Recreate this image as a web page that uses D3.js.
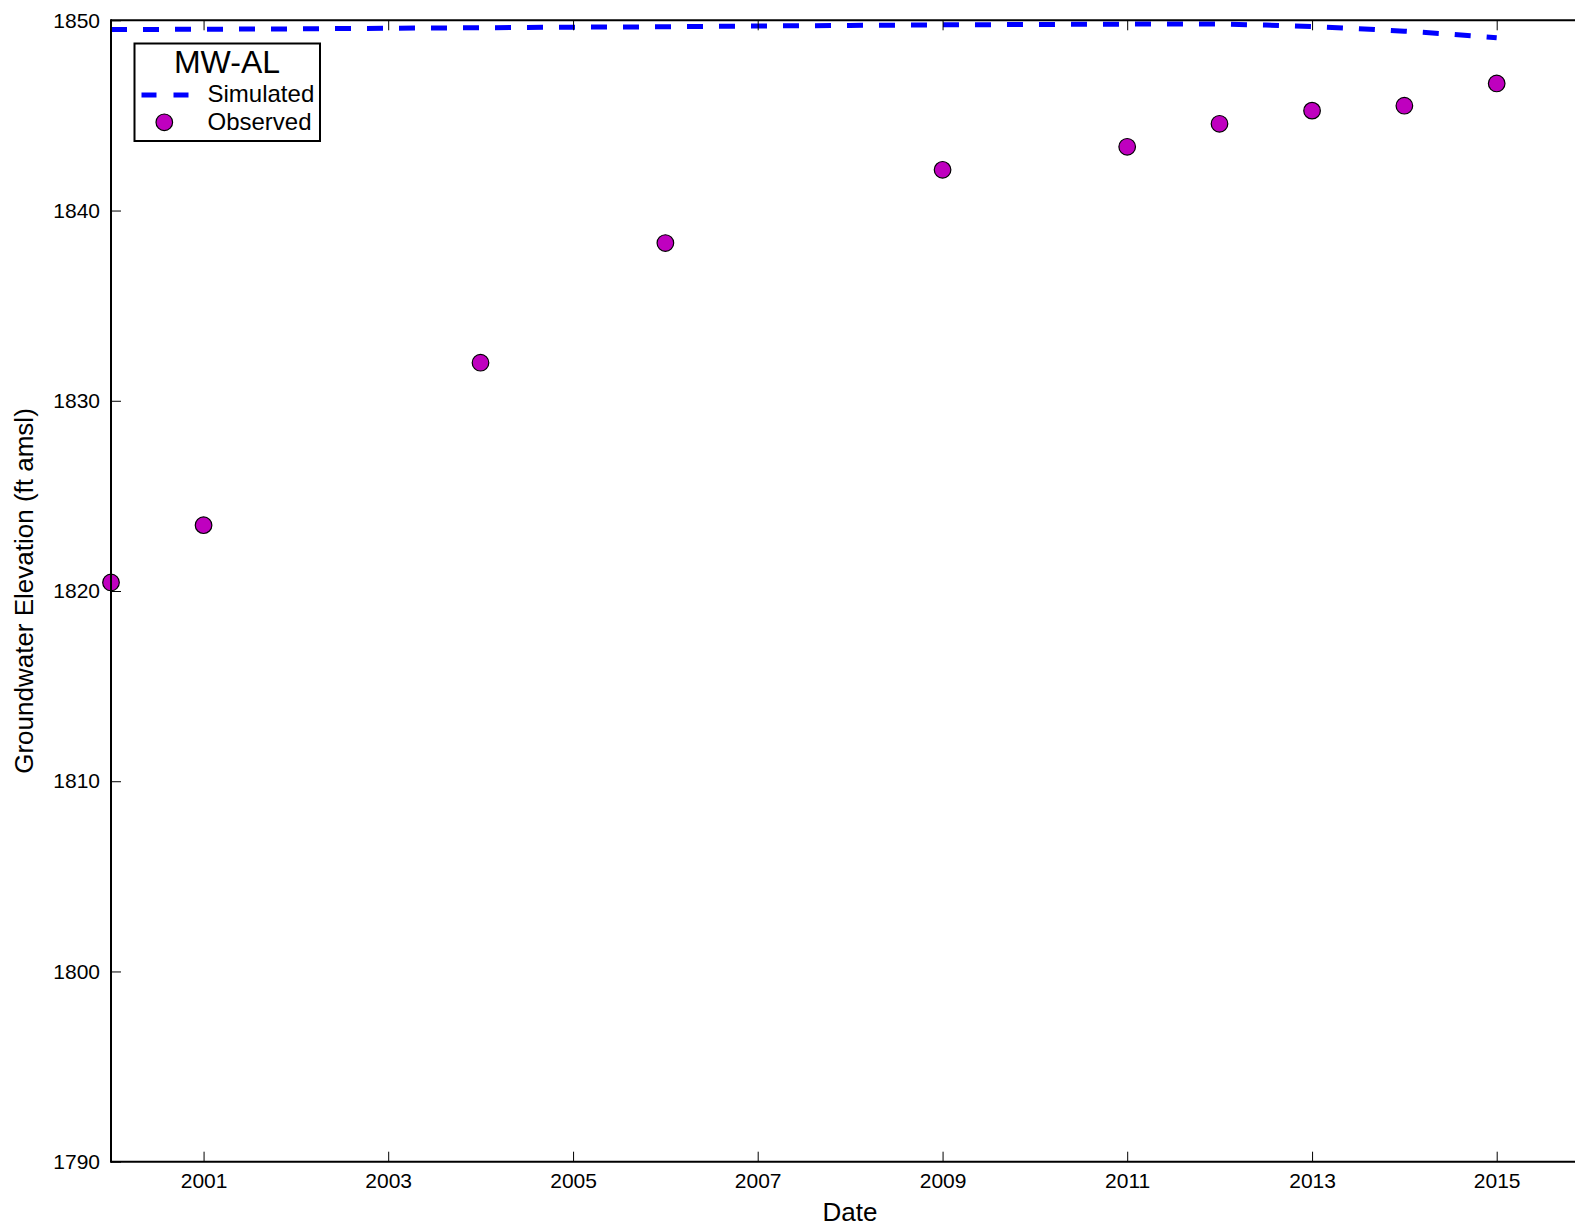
<!DOCTYPE html>
<html>
<head>
<meta charset="utf-8">
<script src="https://cdn.jsdelivr.net/npm/d3@7"></script>
<style>
  html, body { margin: 0; padding: 0; background: #fff; }
  svg { display: block; font-family: "Liberation Sans", Arial, sans-serif; }
</style>
</head>
<body>
<svg id="chart" width="1575" height="1228"></svg>
<script>
// ---- data ----
const obsYears  = [2000, 2001, 2004, 2006, 2009, 2011, 2012, 2013, 2014, 2015];
const obsValues = [1820.45, 1823.46, 1832.0, 1838.29, 1842.14, 1843.35, 1844.56, 1845.25, 1845.51, 1846.68];

const simYears  = [2000, 2001, 2002, 2003, 2004, 2005, 2006, 2007, 2008, 2009, 2010, 2011, 2012, 2012.5, 2013, 2013.5, 2014, 2014.5, 2015];
const simValues = [1849.51, 1849.53, 1849.55, 1849.58, 1849.61, 1849.64, 1849.66, 1849.70, 1849.73, 1849.76, 1849.78, 1849.80, 1849.80, 1849.75, 1849.67, 1849.56, 1849.43, 1849.27, 1849.08];

const xTickYears = [2001, 2003, 2005, 2007, 2009, 2011, 2013, 2015];
const yTicks = [1790, 1800, 1810, 1820, 1830, 1840, 1850];

const legendTitle = "MW-AL";
const seriesNames = ["Simulated", "Observed"];
const xLabel = "Date";
const yLabel = "Groundwater Elevation (ft amsl)";

(function () {
// ---- helpers ----
function yearToDate(yv) {
  const yr = Math.floor(yv);
  const frac = yv - yr;
  const a = new Date(yr, 0, 1), b = new Date(yr + 1, 0, 1);
  return new Date(a.getTime() + frac * (b - a));
}

// ---- layout ----
const pL = 111, pR = 1589, pT = 20.3, pB = 1161.7;
const svg = d3.select("#chart");

const x = d3.scaleTime()
  .domain([new Date(2000, 0, 1), new Date(2016, 0, 1)])
  .range([pL, pR]);
const y = d3.scaleLinear().domain([1790, 1850]).range([pB, pT]);

// simulated line
const simData = simYears.map((yr, i) => ({ d: yearToDate(yr), v: simValues[i] }));
const line = d3.line().x(d => x(d.d)).y(d => y(d.v));
svg.append("path")
  .datum(simData)
  .attr("d", line)
  .attr("fill", "none")
  .attr("stroke", "#0000ff")
  .attr("stroke-width", 5)
  .attr("stroke-dasharray", "16,16");

// observed points
const obsData = obsYears.map((yr, i) => ({ d: yearToDate(yr), v: obsValues[i] }));
svg.append("g").selectAll("circle")
  .data(obsData)
  .enter().append("circle")
  .attr("cx", d => x(d.d))
  .attr("cy", d => y(d.v))
  .attr("r", 8.3)
  .attr("fill", "#bf00bf")
  .attr("stroke", "#000")
  .attr("stroke-width", 1.2);

// axes (ticks inward)
const xTickDates = xTickYears.map(yr => new Date(yr, 0, 1));
const xAxisBottom = d3.axisBottom(x).tickValues(xTickDates)
  .tickFormat(d3.timeFormat("%Y")).tickSizeInner(-10).tickSizeOuter(0).tickPadding(11);
const gxb = svg.append("g").attr("transform", `translate(0,${pB})`).call(xAxisBottom);
gxb.select(".domain").remove();
gxb.selectAll("text").attr("font-size", "21px").attr("fill", "#000")
  .attr("font-family", "Liberation Sans, Arial, sans-serif");
gxb.selectAll("line").attr("stroke", "#000").attr("stroke-width", 1);

const xAxisTop = d3.axisTop(x).tickValues(xTickDates)
  .tickFormat("").tickSizeInner(-10).tickSizeOuter(0);
const gxt = svg.append("g").attr("transform", `translate(0,${pT})`).call(xAxisTop);
gxt.select(".domain").remove();
gxt.selectAll("line").attr("stroke", "#000").attr("stroke-width", 1);

const yAxis = d3.axisLeft(y).tickValues(yTicks).tickFormat(d3.format("d"))
  .tickSizeInner(-10).tickSizeOuter(0).tickPadding(11);
const gy = svg.append("g").attr("transform", `translate(${pL},0)`).call(yAxis);
gy.select(".domain").remove();
gy.selectAll("text").attr("font-size", "21px").attr("fill", "#000")
  .attr("font-family", "Liberation Sans, Arial, sans-serif");
gy.selectAll("line").attr("stroke", "#000").attr("stroke-width", 1);

// spines
const spines = svg.append("g").attr("stroke", "#000").attr("stroke-width", 2).attr("fill", "none");
spines.append("line").attr("x1", pL).attr("x2", pR).attr("y1", pT).attr("y2", pT);
spines.append("line").attr("x1", pL).attr("x2", pR).attr("y1", pB).attr("y2", pB);
spines.append("line").attr("x1", pL).attr("x2", pL).attr("y1", pT - 1).attr("y2", pB + 1);
spines.append("line").attr("x1", pR).attr("x2", pR).attr("y1", pT - 1).attr("y2", pB + 1);

// axis labels
svg.append("text")
  .attr("x", (pL + pR) / 2).attr("y", 1221)
  .attr("text-anchor", "middle").attr("font-size", "26px").attr("fill", "#000")
  .text(xLabel);
svg.append("text")
  .attr("transform", `translate(33,${(pT + pB) / 2}) rotate(-90)`)
  .attr("text-anchor", "middle").attr("font-size", "26px").attr("fill", "#000")
  .text(yLabel);

// legend
const lg = svg.append("g");
lg.append("rect")
  .attr("x", 134.5).attr("y", 43.5).attr("width", 185.5).attr("height", 97.5)
  .attr("fill", "#fff").attr("stroke", "#000").attr("stroke-width", 2);
lg.append("text")
  .attr("x", 227).attr("y", 73).attr("text-anchor", "middle")
  .attr("font-size", "32px").attr("fill", "#000").text(legendTitle);
lg.append("line")
  .attr("x1", 141.5).attr("x2", 189).attr("y1", 95).attr("y2", 95)
  .attr("stroke", "#0000ff").attr("stroke-width", 5).attr("stroke-dasharray", "15,17");
lg.append("text")
  .attr("x", 207.5).attr("y", 102).attr("font-size", "24px").attr("fill", "#000").text(seriesNames[0]);
lg.append("circle")
  .attr("cx", 164.3).attr("cy", 122.3).attr("r", 8.3)
  .attr("fill", "#bf00bf").attr("stroke", "#000").attr("stroke-width", 1.2);
lg.append("text")
  .attr("x", 207.5).attr("y", 130).attr("font-size", "24px").attr("fill", "#000").text(seriesNames[1]);
})();
</script>
</body>
</html>
